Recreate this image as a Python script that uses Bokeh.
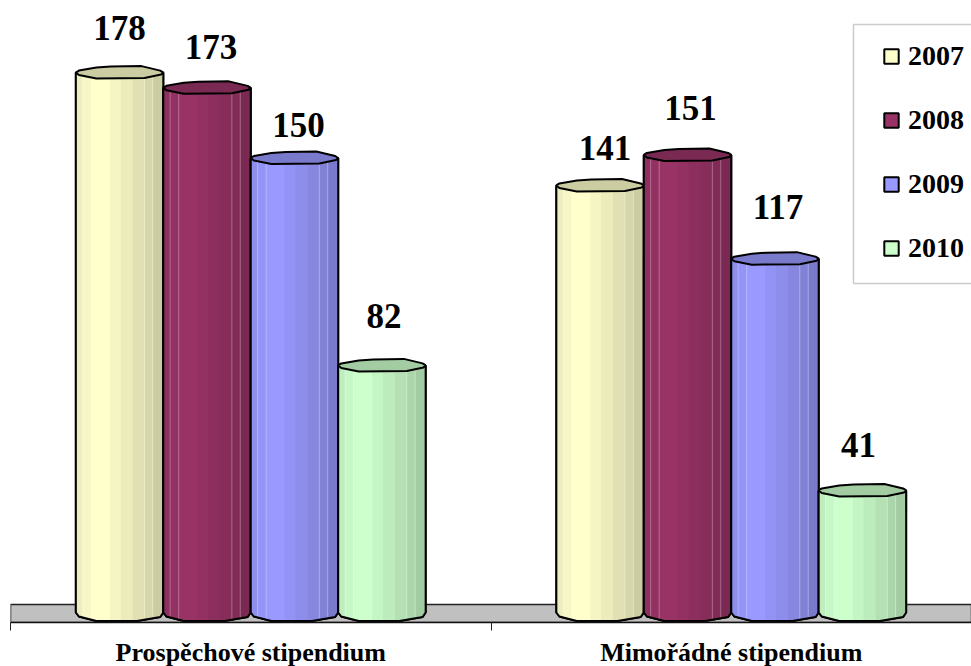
import numpy as np
from bokeh.plotting import figure
from bokeh.models import Range1d, FixedTicker, Legend, LegendItem, BoxAnnotation, ColumnDataSource
from bokeh.core.properties import value
from bokeh.embed import file_html
from bokeh.resources import INLINE

categories = ["Prospěchové stipendium", "Mimořádné stipendium"]
years = ["2007", "2008", "2009", "2010"]
values_2007 = [178, 141]
values_2008 = [173, 151]
values_2009 = [150, 117]
values_2010 = [82, 41]
series = [values_2007, values_2008, values_2009, values_2010]
colors = [(255, 255, 204), (153, 51, 102), (153, 153, 255), (204, 255, 204)]

# style / layout (not data)
FONT = "Liberation Serif"
PX_PER_UNIT = 3.05          # vertical px per value unit
BASE_PX = 615               # px row of value 0
FRAME_H, FRAME_W = 622, 961
BAR_W = 0.182               # in category units
label_dx = [[0, 5], [4, 3], [4, 3], [2, -4]]     # hand-placed data labels in the source
label_dy = [[45, 37], [41, 47], [33, 52], [49, 45]]

# cross-section shapes, u in [-1, 1], offsets in px
strip_edges = [0, .078, .176, .39, .51, .647, .784, .88, 1]
strip_shade = [.93, .97, 1, .96, .92, .88, .84, .80]
sheen = [.078, .176, .784, .88]
cap_u = [-1, -.93, -.53, -.2, .5, .93, 1, .95, .57, -.53, -.93]
cap_dy = [0, 2, 5, 6, 6.5, 2, 0, -2, -5.5, -6, -2.5]
foot_u = [-1, -.93, -.53, .4, .93, 1]
foot_dy = [3, -1, -5.5, -5.5, -1.5, 3]

def hexc(rgb, k=1.0):
    return "#%02x%02x%02x" % tuple(int(round(c * k)) for c in rgb)

p = figure(width=971, height=666, frame_width=FRAME_W, frame_height=FRAME_H,
           output_backend="svg", toolbar_location=None, y_axis_location=None,
           x_range=Range1d(0, 2),
           y_range=Range1d(-(FRAME_H - BASE_PX) / PX_PER_UNIT, BASE_PX / PX_PER_UNIT),
           min_border_left=10, min_border_right=0, min_border_top=0, min_border_bottom=0,
           outline_line_color=None, background_fill_color="white", border_fill_color="white")
p.grid.visible = False

ax = p.xaxis[0]
ax.ticker = FixedTicker(ticks=[i + .5 for i in range(len(categories))],
                        minor_ticks=list(range(len(categories) + 1)))
ax.major_label_overrides = {i + .5: c for i, c in enumerate(categories)}
ax.major_tick_in = ax.major_tick_out = 0
ax.minor_tick_in = 0
ax.minor_tick_out = 8
ax.minor_tick_line_color = "#222222"
ax.minor_tick_line_width = 1
ax.axis_line_color = "#111111"
ax.axis_line_width = 1.5
ax.major_label_standoff = 7
ax.major_label_text_font = FONT
ax.major_label_text_font_style = "bold"
ax.major_label_text_font_size = "26px"
ax.major_label_text_color = "black"
ax.major_label_orientation = "horizontal"

# floor
p.quad(left=[0], right=[2], bottom=[-(FRAME_H - BASE_PX) / PX_PER_UNIT], top=[(BASE_PX - 604) / PX_PER_UNIT],
       fill_color="#c0c0c0", line_color="#222222", line_width=1.5)

legend_items = []
lab_x, lab_y, lab_t, lab_dx, lab_dy = [], [], [], [], []
for s, (vals, col, yr) in enumerate(zip(series, colors, years)):
    bx, by, sx, sy, sc, cx, cy, lx, ly, ex, ey = [], [], [], [], [], [], [], [], [], [], []
    for g, v in enumerate(vals):
        c = g + .5 + (s - 1.5) * BAR_W
        half = BAR_W / 2
        X = lambda u: c + np.asarray(u, float) * half
        foot = lambda u: np.interp(u, foot_u, foot_dy) / PX_PER_UNIT
        # silhouette
        bx.append(list(X(foot_u)) + [X(1), X(-1)])
        by.append(list(np.array(foot_dy) / PX_PER_UNIT) + [v, v])
        ex.append([X(-1)] + list(X(foot_u)) + [X(1)])
        ey.append([v] + list(np.array(foot_dy) / PX_PER_UNIT) + [v])
        # shaded strips
        for i, k in enumerate(strip_shade):
            a, b = strip_edges[i] * 2 - 1, strip_edges[i + 1] * 2 - 1
            inner = [u for u in foot_u if a < u < b]
            us = [a] + inner + [b]
            sx.append(list(X(us)) + [X(b), X(a)])
            sy.append(list(foot(us)) + [v, v])
            sc.append(hexc(col, k))
        # thin sheen lines
        for f in sheen:
            u = f * 2 - 1
            lx.append([X(u), X(u)])
            ly.append([float(foot(u)), v])
        # cap
        cx.append(list(X(cap_u)))
        cy.append(list(v + np.array(cap_dy) / PX_PER_UNIT))
        lab_x.append(c); lab_y.append(v); lab_t.append(str(v))
        lab_dx.append(label_dx[s][g]); lab_dy.append(label_dy[s][g])
    base = p.patches(bx, by, fill_color=hexc(col), line_color="#000000", line_width=2)
    p.patches(xs="x", ys="y", fill_color="c", line_color=None,
              source=ColumnDataSource(dict(x=sx, y=sy, c=sc)))
    p.multi_line(lx, ly, line_color="white", line_alpha=.3, line_width=1)
    p.multi_line(ex, ey, line_color="#000000", line_width=2)
    p.patches(cx, cy, fill_color=hexc(col, .8), line_color="#000000", line_width=2)
    legend_items.append(LegendItem(label=yr, renderers=[base]))

p.text(x="x", y="y", text="t", x_offset="dx", y_offset="dy",
       source=ColumnDataSource(dict(x=lab_x, y=lab_y, t=lab_t, dx=lab_dx,
                                    dy=[-d for d in lab_dy])),
       text_font=value(FONT), text_font_style="bold", text_font_size="35px",
       text_color="black", text_align="center", text_baseline="alphabetic")

# legend frame runs off the right edge, as in the source
p.add_layout(BoxAnnotation(left=843, right=985, top=FRAME_H - 24, bottom=FRAME_H - 283,
                           left_units="screen", right_units="screen",
                           top_units="screen", bottom_units="screen",
                           fill_color="white", fill_alpha=1,
                           line_color="#555555", line_width=1.5, level="annotation"))
legend = Legend(items=legend_items, location=(872, 358), orientation="vertical",
                border_line_color=None, background_fill_alpha=0,
                padding=0, margin=0, spacing=32, glyph_width=18, glyph_height=18,
                label_standoff=8, label_height=32,
                label_text_font=FONT, label_text_font_style="bold",
                label_text_font_size="28px", label_text_color="black", level="overlay")
p.add_layout(legend)

open("out.html", "w").write(file_html(p, INLINE))
